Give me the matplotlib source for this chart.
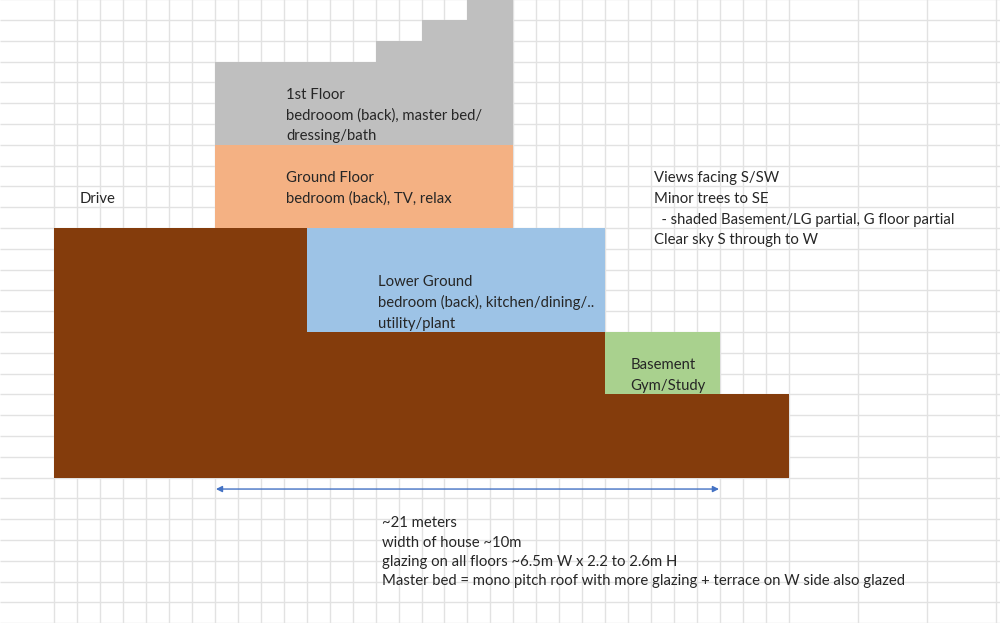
import matplotlib

matplotlib.use("Agg")

import matplotlib.pyplot as plt
import numpy as np

# everything is in sheet cells: column 0 is the left of the brown block, row 0 its top
col_lines = list(range(0, 33)) + [35, 38, 41]
row_lines = list(range(-19, 12))

ground_left = [0, 11, 24, 29]
ground_width = [11, 13, 5, 3]
ground_top = [0, -5, -8, -8]
ground_base = -12

floor_names = ["1st Floor", "1st Floor", "1st Floor", "1st Floor", "Ground Floor", "Lower Ground", "Basement"]
floor_left = [7, 14, 16, 18, 7, 11, 24]
floor_width = [7, 2, 2, 2, 13, 13, 5]
floor_bottom = [4, 4, 4, 4, 0, -5, -8]
floor_height = [4, 5, 6, 7, 4, 5, 3]
floor_colors = ["#BFBFBF", "#BFBFBF", "#BFBFBF", "#BFBFBF", "#F4B183", "#9DC3E6", "#A9D18E"]

labels = [
    (1.13, 1.40, "Drive"),
    (10.1, 6.40, "1st Floor"),
    (10.1, 5.40, "bedrooom (back), master bed/"),
    (10.1, 4.40, "dressing/bath"),
    (10.1, 2.40, "Ground Floor"),
    (10.1, 1.40, "bedroom (back), TV, relax"),
    (14.1, -2.60, "Lower Ground"),
    (14.1, -3.60, "bedroom (back), kitchen/dining/.."),
    (14.1, -4.60, "utility/plant"),
    (25.1, -6.60, "Basement"),
    (25.1, -7.60, "Gym/Study"),
    (26.1, 2.40, "Views facing S/SW"),
    (26.1, 1.40, "Minor trees to SE"),
    (26.1, 0.40, "  - shaded Basement/LG partial, G floor partial"),
    (26.1, -0.60, "Clear sky S through to W"),
    (14.3, -14.18, "~21 meters"),
    (14.3, -15.13, "width of house ~10m"),
    (14.3, -16.05, "glazing on all floors ~6.5m W x 2.2 to 2.6m H"),
    (14.3, -16.97, "Master bed = mono pitch roof with more glazing + terrace on W side also glazed"),
]

arrow_from = 7.05
arrow_to = 28.95
arrow_row = -12.55

cell_w = 22.97
cell_h = 20.8

fig = plt.figure(figsize=(10.0, 6.23), dpi=100, facecolor="white")
ax = fig.add_axes([0, 0, 1, 1])
ax.set_xlim(-54 / cell_w, (1000 - 54) / cell_w)
ax.set_ylim((228 - 623) / cell_h, 228 / cell_h)
ax.axis("off")

ax.vlines(col_lines, row_lines[0], row_lines[-1], color="#E2E2E2", lw=1.0, zorder=1)
ax.hlines(row_lines, ax.get_xlim()[0], ax.get_xlim()[1], color="#E2E2E2", lw=1.0, zorder=1)

ax.bar(
    ground_left,
    np.array(ground_top) - ground_base,
    width=ground_width,
    bottom=ground_base,
    align="edge",
    color="#843C0C",
    linewidth=0,
    zorder=2,
)
ax.bar(
    floor_left,
    floor_height,
    width=floor_width,
    bottom=floor_bottom,
    align="edge",
    color=floor_colors,
    linewidth=0,
    zorder=2,
)

ax.annotate(
    "",
    xy=(arrow_from, arrow_row),
    xytext=(arrow_to, arrow_row),
    arrowprops=dict(arrowstyle="<|-|>", color="#4472C4", lw=1.0, mutation_scale=9, shrinkA=0, shrinkB=0),
    zorder=3,
)

for x, y, s in labels:
    ax.text(x, y, s, fontsize=10.7, family="Lato", color="#262626", va="center", ha="left", zorder=4)

fig.savefig("out.png", dpi=100, facecolor="white")
plt.close(fig)
